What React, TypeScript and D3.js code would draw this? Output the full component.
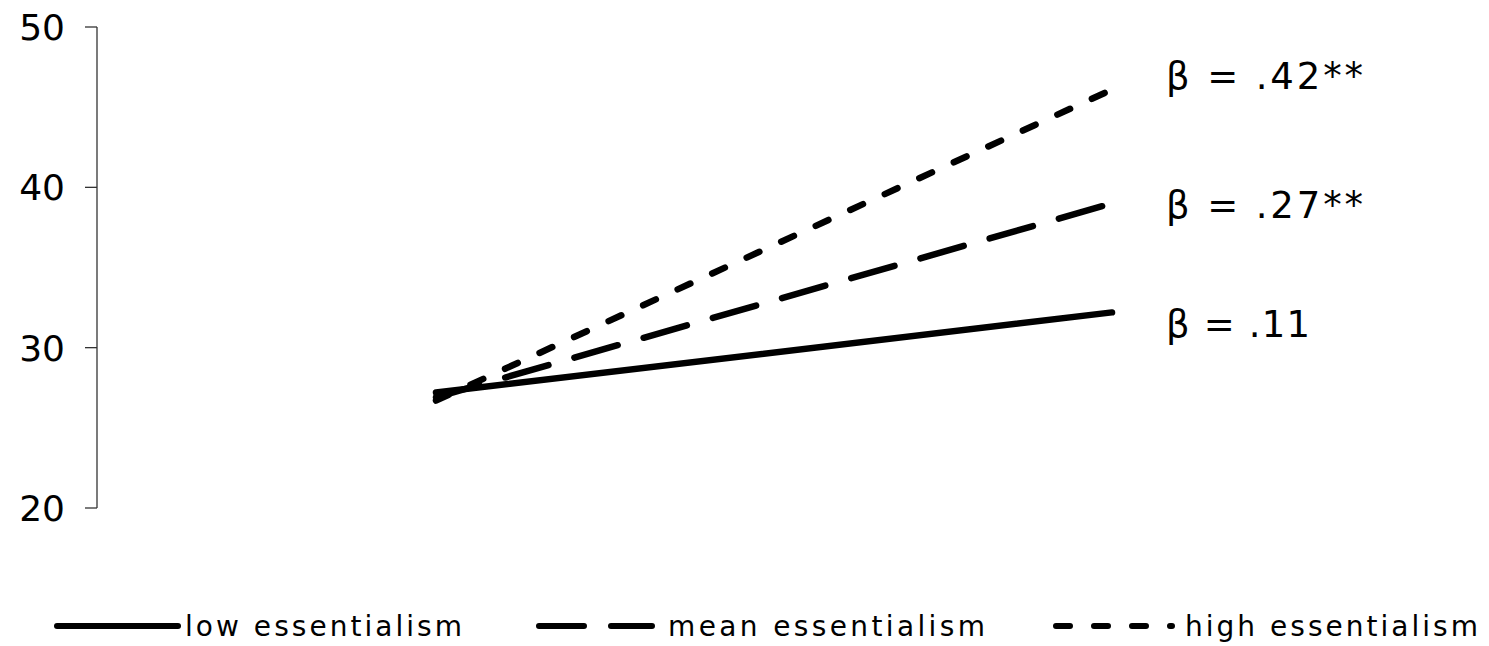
import React from 'react';
import * as d3 from 'd3';

// ---- data ----
const xLevels = ['low', 'high'];
const lowSeries = [27.2, 32.2];
const meanSeries = [26.9, 39.0];
const highSeries = [26.7, 46.1];
const seriesNames = ['low essentialism', 'mean essentialism', 'high essentialism'];
const betaLabels = ['β = .11', 'β = .27**', 'β = .42**'];
const yTicks = [20, 30, 40, 50];

// ---- layout ----
const W = 1489;
const H = 646;
const FONT = '"DejaVu Sans", Verdana, sans-serif';
const dashes = ['none', '45 27', '14 24'];
const betaBaselines = [337, 218, 89];
const betaLengths = [144, 197, 197];
const legendSamples = [
  [57, 178],
  [539, 652],
  [1056, 1172],
];
const legendTextX = [185, 668, 1185];
const legendTextLen = [277, 317, 293];

export default function App() {
  const y = d3.scaleLinear().domain([20, 50]).range([508, 27]);
  const x = d3.scalePoint<string>().domain(xLevels).range([436, 1112]);
  const line = d3
    .line<number>()
    .x((_, i) => x(xLevels[i]) as number)
    .y((d) => y(d));
  const all = [lowSeries, meanSeries, highSeries];
  const axisX = 97;

  return (
    <svg
      width={W}
      height={H}
      style={{ position: 'absolute', left: 0, top: 0, display: 'block', background: '#fff' }}
    >
      {/* y axis */}
      <line x1={axisX} x2={axisX} y1={y(50)} y2={y(20)} stroke="#333" strokeWidth={1.3} />
      {yTicks.map((t) => (
        <g key={t}>
          <line x1={axisX - 12} x2={axisX} y1={y(t)} y2={y(t)} stroke="#333" strokeWidth={1.3} />
          <text
            x={65}
            y={y(t)}
            dy="0.36em"
            textAnchor="end"
            fontFamily={FONT}
            fontSize={36}
            fill="#000"
          >
            {t}
          </text>
        </g>
      ))}

      {/* series lines */}
      {[2, 1, 0].map((i) => (
        <path
          key={i}
          d={line(all[i]) as string}
          fill="none"
          stroke="#000"
          strokeWidth={6.5}
          strokeLinecap="round"
          strokeDasharray={dashes[i]}
        />
      ))}

      {/* beta labels */}
      {betaLabels.map((b, i) => (
        <text
          key={b}
          x={1166}
          y={betaBaselines[i]}
          fontFamily={FONT}
          fontSize={37}
          fill="#000"
          textLength={betaLengths[i]}
          lengthAdjust="spacing"
        >
          {b}
        </text>
      ))}

      {/* legend */}
      {seriesNames.map((n, i) => (
        <g key={n}>
          <line
            x1={legendSamples[i][0]}
            x2={legendSamples[i][1]}
            y1={626}
            y2={626}
            stroke="#000"
            strokeWidth={6}
            strokeLinecap="round"
            strokeDasharray={dashes[i]}
          />
          <text
            x={legendTextX[i]}
            y={636}
            fontFamily={FONT}
            fontSize={28}
            fill="#000"
            textLength={legendTextLen[i]}
            lengthAdjust="spacing"
          >
            {n}
          </text>
        </g>
      ))}
    </svg>
  );
}
